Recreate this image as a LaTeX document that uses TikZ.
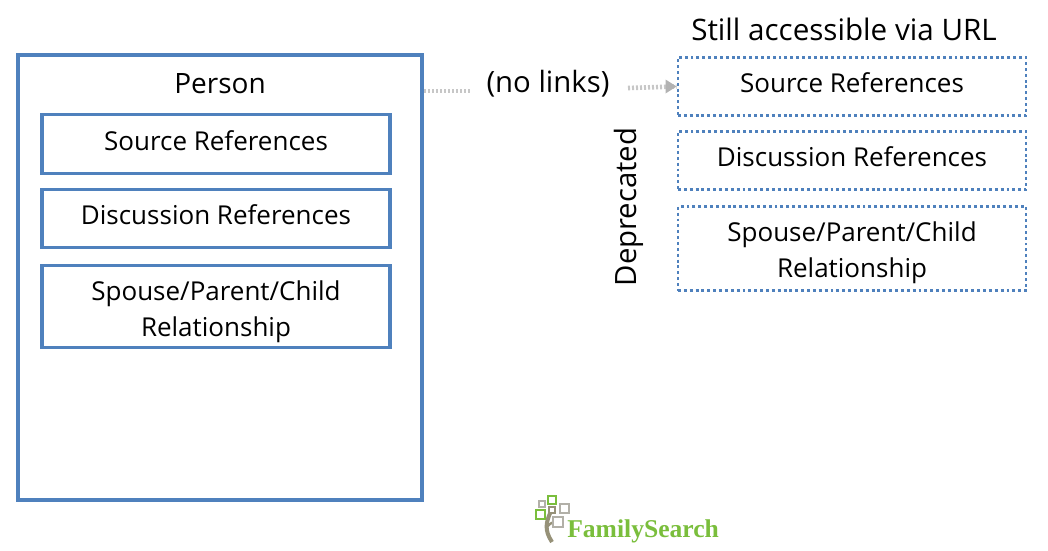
\documentclass[tikz,border=0pt]{standalone}
\usepackage{fontspec}
\setmainfont{Open Sans}
\newfontfamily\logofont{Liberation Serif}
\definecolor{boxblue}{RGB}{79,129,189}
\definecolor{logogreen}{RGB}{122,190,60}
\definecolor{logogray}{RGB}{178,176,168}
\definecolor{logotrunk}{RGB}{150,145,120}
\tikzset{
    solidbox/.style={draw=boxblue, line width=2.3pt},
    dotbox/.style={draw=boxblue, line width=2.2pt, dash pattern=on 2.2pt off 2.2pt},
    label/.style={font=\fontsize{19.5}{26.5}\selectfont, align=center, text=black},
    oneline/.style={text height=14pt, text depth=4.5pt},
    nolink/.style={draw=black!22, line width=3.5pt, dash pattern=on 1.5pt off 1.5pt},
    logosq/.style={line width=1.8pt, fill=white},
}
\begin{document}
\begin{tikzpicture}[x=0.75pt, y=-0.75pt]
    \useasboundingbox (0,0) rectangle (1048,550);
    % left side
    \draw[solidbox] (18,55) rectangle (422,500);
    \node[label, font=\fontsize{21}{25}\selectfont] (person) at (220,84) {Person};
    \node[solidbox, label, oneline, minimum width=261pt, minimum height=44pt, inner sep=0pt] (sourceL) at (216,144) {Source References};
    \node[solidbox, label, oneline, minimum width=261pt, minimum height=44pt, inner sep=0pt] (discussL) at (216,218.5) {Discussion References};
    \node[solidbox, label, minimum width=261pt, minimum height=62pt, inner sep=0pt] (spouseL) at (216,306.5) {\rule{0pt}{22.5pt}Spouse/Parent/Child\\Relationship};
    % right side
    \node[label, font=\fontsize{22.2}{25}\selectfont] (still) at (844,29) {Still accessible via URL};
    \node[dotbox, label, oneline, minimum width=261pt, minimum height=44pt, inner sep=0pt] (sourceR) at (852,86.5) {Source References};
    \node[dotbox, label, oneline, minimum width=261pt, minimum height=44pt, inner sep=0pt] (discussR) at (852,160.5) {Discussion References};
    \node[dotbox, label, minimum width=261pt, minimum height=63pt, inner sep=0pt] (spouseR) at (852,248.5) {\rule{0pt}{21pt}Spouse/Parent/Child\\Relationship};
    \node[label, font=\fontsize{22}{25}\selectfont, rotate=90] (deprecated) at (629,207) {Deprecated};
    % connector
    \node[label, font=\fontsize{22}{25}\selectfont] (nolinks) at (548,84) {(no links)};
    \coordinate (linkout) at (424,91);
    \coordinate (linkend) at (472,91);
    \coordinate (linkback) at (628,88);
    \draw[nolink] (linkout) -- (linkend);
    \draw[nolink] (linkback) -- (sourceR.west);
    \fill[black!30] (sourceR.west) -- ++(-11,-7) -- ++(0,14) -- cycle;
    % logo
    \draw[logotrunk, line width=3pt] (552,542) .. controls (544,530) and (546,522) .. (551,511);
    \draw[logotrunk, line width=1.8pt] (547,527) .. controls (549,524) and (551,523) .. (555,522);
    \foreach \xa/\ya/\s/\col in {548/496/8/logogreen, 539/501/6/logogray, 549/507/6/logotrunk, 560/504/9/logogray, 536/510/9/logogreen, 553/517/10/logogray} {
        \draw[logosq, draw=\col] (\xa,\ya) rectangle ++(\s,\s);
    }
    \node[text=logogreen, font=\logofont\bfseries\fontsize{19.2}{24}\selectfont, inner sep=0pt, anchor=base west] (logo) at (567,537) {FamilySearch};
\end{tikzpicture}
\end{document}
